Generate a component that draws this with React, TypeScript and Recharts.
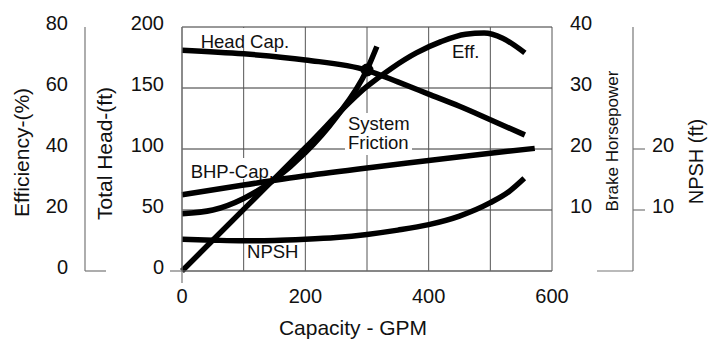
import React from 'react';
import {
  LineChart,
  Line,
  XAxis,
  YAxis,
  CartesianGrid,
  ReferenceArea,
  ReferenceDot,
} from 'recharts';

const FONT = "'Liberation Sans', Arial, Helvetica, sans-serif";
const AXIS_GRAY = '#777';

// axis ids (sorted order sets stacking: first = next to the plot)
const HEAD = 'l1Head';
const EFF = 'l2Eff';
const BHP = 'r1Bhp';
const NPSH = 'r2Npsh';

// ---- axes / ticks ----
const capacityTicks = [0, 100, 200, 300, 400, 500, 600];
const capacityLabels = [0, 200, 400, 600];
const headTicks = [0, 50, 100, 150, 200];
const effTicks = [0, 20, 40, 60, 80];
const bhpTicks = [10, 20, 30, 40];
const npshTicks = [0, 10, 20];
const npshLabels = [10, 20];

// ---- series (capacity in GPM) ----
const headCapQ = [0, 100, 200, 300, 350, 400, 450, 500, 556];
const headCapFt = [181, 178, 173, 164.5, 155, 145, 135, 124, 111.5];

const effQ = [0, 100, 200, 300, 340, 380, 420, 460, 490, 520, 556];
const effPct = [0, 20.2, 40.4, 60.5, 66.5, 71.5, 75.2, 77.6, 78, 76.3, 71.5];

const systemQ = [0, 50, 100, 150, 200, 250, 300, 316];
const systemFt = [47, 50, 59.5, 75, 97, 126, 165, 184];

const bhpQ = [0, 100, 200, 300, 400, 500, 572];
const bhpHp = [12.5, 14.1, 15.6, 16.9, 18.1, 19.3, 20.1];

const npshQ = [0, 50, 100, 150, 200, 250, 300, 350, 400, 450, 500, 530, 555];
const npshFt = [5.2, 5.05, 4.95, 5.0, 5.2, 5.5, 6.0, 6.7, 7.6, 9.0, 11.2, 13.0, 15.2];

const operatingQ = 300;
const operatingHead = 164.75;

// ---- in-plot annotations (data units on capacity / head axes) ----
const annotations = [
  { lines: ['Head Cap.'], q1: 26, q2: 177, h1: 182.8, h2: 199.2, bg: true },
  { lines: ['System', 'Friction'], q1: 264.3, q2: 373, h1: 95.1, h2: 129.5, bg: true },
  { lines: ['BHP-Cap.'], q1: 9.7, q2: 113.5, h1: 75.4, h2: 92.6, bg: true },
  { lines: ['NPSH'], q1: 102.2, q2: 191.4, h1: 7.4, h2: 23, bg: false },
  { lines: ['Eff.'], q1: 434.6, q2: 483.2, h1: 173, h2: 189.3, bg: false },
];
const annotationText = [
  { dx: 2.7, baselines: [20] },
  { dx: 3, baselines: [17, 36.3] },
  { dx: 2.7, baselines: [20] },
  { dx: 2, baselines: [15.3] },
  { dx: 2, baselines: [18] },
];

const toPoints = (q: number[], v: number[]) => q.map((x, i) => ({ q: x, v: v[i] }));

const headCapData = toPoints(headCapQ, headCapFt);
const effData = toPoints(effQ, effPct);
const systemData = toPoints(systemQ, systemFt);
const bhpData = toPoints(bhpQ, bhpHp);
const npshData = toPoints(npshQ, npshFt);

const tickStyle = { fontFamily: FONT, fontSize: 20, fill: '#111' };

const EffTick = (props: any) => {
  const { x, y, payload } = props;
  return (
    <g>
      {payload.value === 0 && (
        <line x1={x + 17} y1={y} x2={x + 38} y2={y} stroke={AXIS_GRAY} strokeWidth={1.2} />
      )}
      <text x={x} y={y + 2.6} textAnchor="end" style={tickStyle}>
        {payload.value}
      </text>
    </g>
  );
};

const HeadTick = (props: any) => {
  const { x, y, payload } = props;
  return (
    <g>
      {payload.value === 0 && (
        <line x1={x + 6} y1={y} x2={x + 18} y2={y} stroke={AXIS_GRAY} strokeWidth={1.2} />
      )}
      <text x={x} y={y + 2.6} textAnchor="end" style={tickStyle}>
        {payload.value}
      </text>
    </g>
  );
};

const BhpTick = (props: any) => {
  const { x, y, payload } = props;
  return (
    <text x={x} y={y + 2.6} textAnchor="start" style={tickStyle}>
      {payload.value}
    </text>
  );
};

const NpshTick = (props: any) => {
  const { x, y, payload } = props;
  if (payload.value === 0) {
    return <line x1={x - 55} y1={y} x2={x - 19} y2={y} stroke={AXIS_GRAY} strokeWidth={1.2} />;
  }
  return (
    <g>
      <line x1={x - 19} y1={y} x2={x - 7} y2={y} stroke={AXIS_GRAY} strokeWidth={1.2} />
      {npshLabels.includes(payload.value) && (
        <text x={x} y={y + 2.6} textAnchor="start" style={tickStyle}>
          {payload.value}
        </text>
      )}
    </g>
  );
};

const CapTick = (props: any) => {
  const { x, y, payload } = props;
  return (
    <g>
      {payload.value === 0 && (
        <line x1={x} y1={y} x2={x} y2={y + 12} stroke={AXIS_GRAY} strokeWidth={1.2} />
      )}
      {capacityLabels.includes(payload.value) && (
        <text x={x} y={y + 32} textAnchor="middle" style={tickStyle}>
          {payload.value}
        </text>
      )}
    </g>
  );
};

const vTitle = (text: string, dx: number, dy: number, size: number) => (props: any) => {
  const vb = props.viewBox || {};
  const bx = vb.x + dx;
  const cy = vb.y + vb.height / 2 + dy;
  return (
    <text
      x={bx}
      y={cy}
      textAnchor="middle"
      transform={`rotate(-90, ${bx}, ${cy})`}
      style={{ fontFamily: FONT, fontSize: size, fill: '#111' }}
    >
      {text}
    </text>
  );
};

const xTitle = (props: any) => {
  const vb = props.viewBox || {};
  return (
    <text
      x={vb.x + vb.width / 2 - 14}
      y={vb.y + 63.5}
      textAnchor="middle"
      style={{ fontFamily: FONT, fontSize: 21, fill: '#111' }}
    >
      Capacity - GPM
    </text>
  );
};

const annotationLabel = (idx: number) => (props: any) => {
  const vb = props.viewBox || {};
  const a = annotations[idx];
  const t = annotationText[idx];
  return (
    <g>
      {a.lines.map((s, i) => (
        <text
          key={i}
          x={vb.x + t.dx}
          y={vb.y + t.baselines[i]}
          style={{ fontFamily: FONT, fontSize: 18.5, fill: '#111' }}
        >
          {s}
        </text>
      ))}
    </g>
  );
};

export default function App() {
  return (
    <div style={{ position: 'absolute', left: 0, top: 0, background: '#fff' }}>
      <LineChart
        width={712}
        height={347}
        margin={{ top: 27, right: 0, bottom: 0, left: 0 }}
        style={{ fontFamily: FONT }}
      >
        <CartesianGrid yAxisId={HEAD} vertical={false} stroke="#333" strokeWidth={1} />
        <CartesianGrid yAxisId={HEAD} horizontal={false} stroke="#555" strokeWidth={1} />
        <XAxis
          dataKey="q"
          type="number"
          domain={[0, 600]}
          ticks={capacityTicks}
          interval={0}
          height={76}
          tickSize={0}
          tickMargin={0}
          tickLine={false}
          axisLine={{ stroke: AXIS_GRAY, strokeWidth: 1.2 }}
          tick={<CapTick />}
          label={xTitle}
        />
        <YAxis
          yAxisId={HEAD}
          orientation="left"
          width={97}
          domain={[0, 200]}
          ticks={headTicks}
          interval={0}
          tickSize={0}
          tickMargin={18}
          tickLine={false}
          axisLine={{ stroke: AXIS_GRAY, strokeWidth: 1.2 }}
          tick={<HeadTick />}
          label={vTitle('Total Head-(ft)', 27.3, 4.5, 21)}
        />
        <YAxis
          yAxisId={EFF}
          orientation="left"
          width={85}
          domain={[0, 80]}
          ticks={effTicks}
          interval={0}
          tickSize={0}
          tickMargin={17}
          tickLine={false}
          axisLine={{ stroke: AXIS_GRAY, strokeWidth: 1.2 }}
          tick={<EffTick />}
          label={vTitle('Efficiency-(%)', 28.5, 3.5, 21)}
        />
        <YAxis
          yAxisId={BHP}
          orientation="right"
          width={81}
          domain={[0, 40]}
          ticks={bhpTicks}
          interval={0}
          tickSize={0}
          tickMargin={18}
          tickLine={false}
          axisLine={false}
          tick={<BhpTick />}
          label={vTitle('Brake Horsepower', 66, -8, 17)}
        />
        <YAxis
          yAxisId={NPSH}
          orientation="right"
          width={79}
          domain={[0, 40]}
          ticks={npshTicks}
          interval={0}
          tickSize={0}
          tickMargin={19}
          tickLine={false}
          axisLine={{ stroke: AXIS_GRAY, strokeWidth: 1.2 }}
          tick={<NpshTick />}
          label={vTitle('NPSH (ft)', 69.5, 12.5, 20)}
        />

        {annotations.map((a, i) => (
          <ReferenceArea
            key={i}
            yAxisId={HEAD}
            x1={a.q1}
            x2={a.q2}
            y1={a.h1}
            y2={a.h2}
            fill="#fff"
            fillOpacity={a.bg ? 1 : 0}
            stroke="none"
            label={annotationLabel(i)}
          />
        ))}

        <Line data={headCapData} dataKey="v" yAxisId={HEAD} type="monotone" stroke="#000" strokeWidth={5.5} dot={false} activeDot={false} isAnimationActive={false} />
        <Line data={systemData} dataKey="v" yAxisId={HEAD} type="monotone" stroke="#000" strokeWidth={5.5} dot={false} activeDot={false} isAnimationActive={false} />
        <Line data={effData} dataKey="v" yAxisId={EFF} type="monotone" stroke="#000" strokeWidth={5.5} dot={false} activeDot={false} isAnimationActive={false} />
        <Line data={bhpData} dataKey="v" yAxisId={BHP} type="monotone" stroke="#000" strokeWidth={5.5} dot={false} activeDot={false} isAnimationActive={false} />
        <Line data={npshData} dataKey="v" yAxisId={NPSH} type="monotone" stroke="#000" strokeWidth={5.5} dot={false} activeDot={false} isAnimationActive={false} />

        <ReferenceDot yAxisId={HEAD} x={operatingQ} y={operatingHead} r={6.5} fill="#000" stroke="none" />
      </LineChart>
    </div>
  );
}
